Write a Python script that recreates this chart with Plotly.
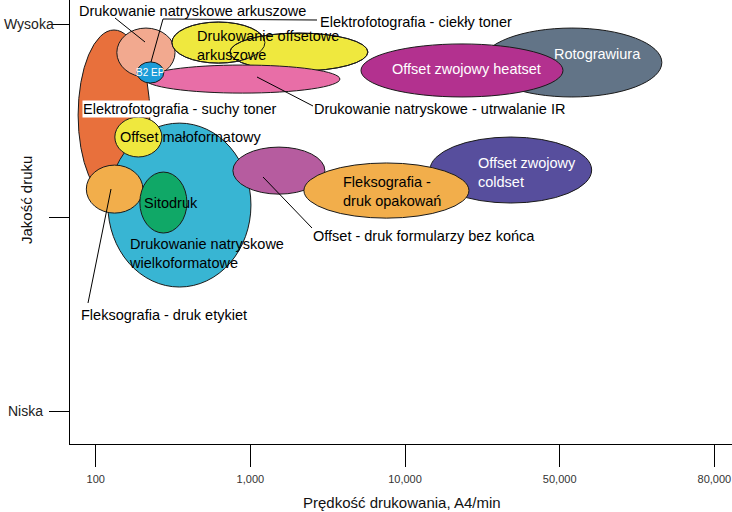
import numpy as np
import plotly.graph_objects as go

# ---- data ----
tick_speeds = [100, 1000, 10000, 50000, 80000]
tick_labels = ["100", "1,000", "10,000", "50,000", "80,000"]
quality_vals = [0, 1, 2]
quality_labels = ["Niska", "", "Wysoka"]

names = [
    "Rotograwiura", "Offset zwojowy heatset", "Elektrofotografia - suchy toner",
    "Drukowanie natryskowe wielkoformatowe", "Offset małoformatowy",
    "Fleksografia - druk etykiet", "Sitodruk", "Drukowanie natryskowe arkuszowe",
    "Drukowanie offsetowe arkuszowe (A)", "Drukowanie offsetowe arkuszowe (B)",
    "Drukowanie natryskowe - utrwalanie IR", "B2 EP",
    "Offset - druk formularzy bez końca", "Offset zwojowy coldset",
    "Fleksografia - druk opakowań",
]
speed_min = [22240, 5190, 77, 120, 133, 87, 193, 137, 311, 738, 208, 185, 771, 12960, 2220]
speed_max = [68200, 50500, 224, 1009, 268, 202, 389, 326, 1242, 5754, 3793, 276, 3034, 55100, 19440]
quality_min = [1.623, 1.623, 1.090, 0.641, 1.313, 1.023, 0.920, 1.726, 1.798, 1.757, 1.643, 1.695, 1.121, 1.075, 0.997]
quality_max = [1.979, 1.897, 1.969, 1.488, 1.519, 1.271, 1.235, 1.979, 2.010, 1.953, 1.788, 1.804, 1.364, 1.416, 1.282]

# ---- styles ----
colors = ["#627487", "#B3318F", "#E8703C", "#38B5D3", "#EFE83E", "#F2AE4B", "#10A867",
          "#F2A98F", "#EFE83E", "#EFE83E", "#E86EA7", "#1C9CD8", "#B65C9F", "#574E9D", "#F2AE4B"]
# the two yellow sheet-fed offset ellipses show both outlines through each other
outline_overlay = [8, 9]

log_ticks = np.log10(tick_speeds)
pos_ticks = np.arange(len(tick_speeds), dtype=float)


def to_axis(v):
    lv = np.log10(v)
    if lv < log_ticks[0]:
        return pos_ticks[0] + (lv - log_ticks[0]) / (log_ticks[1] - log_ticks[0])
    if lv > log_ticks[-1]:
        return pos_ticks[-1] + (lv - log_ticks[-1]) / (log_ticks[-1] - log_ticks[-2])
    return float(np.interp(lv, log_ticks, pos_ticks))


FONT = "Liberation Sans, Arial, sans-serif"
fig = go.Figure()
fig.add_trace(go.Scatter(x=[0], y=[0], mode="markers", marker=dict(opacity=0),
                         hoverinfo="skip", showlegend=False))

for i in range(len(names)):
    fig.add_shape(type="circle", xref="x", yref="y",
                  x0=to_axis(speed_min[i]), x1=to_axis(speed_max[i]),
                  y0=quality_min[i], y1=quality_max[i],
                  fillcolor=colors[i], line=dict(color="#1a1a1a", width=1), layer="above")
    if i == outline_overlay[-1]:
        for j in outline_overlay:
            fig.add_shape(type="circle", xref="x", yref="y",
                          x0=to_axis(speed_min[j]), x1=to_axis(speed_max[j]),
                          y0=quality_min[j], y1=quality_max[j],
                          fillcolor="rgba(0,0,0,0)", line=dict(color="#1a1a1a", width=1),
                          layer="above")

# pixel helpers for label placement
L, R, T, B = 70, 0, 0, 68
W, H = 732, 512
PW, PH = W - L - R, H - T - B


def PX(px):
    return (px - L) / PW


def PY(py):
    return (H - B - py) / PH


leaders = [((115, 18), (145, 42)), ((317, 20), (163, 19)), ((163, 19), (151, 62)),
           ((313, 106), (257, 77)), ((111, 189), (88, 303)), ((312, 228), (263, 177))]
for (a, b) in leaders:
    fig.add_shape(type="line", xref="paper", yref="paper", x0=PX(a[0]), y0=PY(a[1]),
                  x1=PX(b[0]), y1=PY(b[1]), line=dict(color="black", width=1), layer="above")

FS = 14.5
labels = [
    ("Drukowanie natryskowe arkuszowe", 78, 11, "left", "black", FS, None),
    ("Elektrofotografia - ciekły toner", 319, 22, "left", "black", FS, None),
    ("Drukowanie offsetowe<br>arkuszowe", 196, 45.5, "left", "black", FS, None),
    ("Rotograwiura", 597, 54, "center", "white", FS, None),
    ("Offset zwojowy heatset", 466, 69, "center", "white", FS, None),
    ("B2 EP", 150, 72, "center", "white", 10, None),
    ("Elektrofotografia - suchy toner", 82, 109, "left", "black", FS, "white"),
    ("Drukowanie natryskowe - utrwalanie IR", 313, 109, "left", "black", FS, None),
    ("Offset małoformatowy", 119, 137, "left", "black", FS, None),
    ("Offset zwojowy<br>coldset", 477, 172, "left", "white", FS, None),
    ("Fleksografia -<br>druk opakowań", 342, 191, "left", "black", FS, None),
    ("Sitodruk", 143, 203, "left", "black", FS, None),
    ("Offset - druk formularzy bez końca", 312, 236, "left", "black", FS, None),
    ("Drukowanie natryskowe<br>wielkoformatowe", 128, 253, "left", "black", FS, None),
    ("Fleksografia - druk etykiet", 80, 315, "left", "black", FS, None),
]
for text, x, y, anchor, col, size, bg in labels:
    fig.add_annotation(text=text, xref="paper", yref="paper", x=PX(x), y=PY(y),
                       xanchor=anchor, yanchor="middle", align="left", showarrow=False,
                       font=dict(family=FONT, size=size, color=col),
                       bgcolor=bg if bg else "rgba(0,0,0,0)", borderpad=0)

# y tick labels (right edges differ in the reference)
ylabel_right = [44, 53, 55]
for qv, qt, rx in zip(quality_vals, quality_labels, ylabel_right):
    if qt:
        fig.add_annotation(text=qt, xref="paper", yref="y", x=PX(rx), y=qv,
                           xanchor="right", yanchor="middle", showarrow=False, borderpad=0,
                           font=dict(family=FONT, size=14, color="#222"))

fig.add_annotation(text="Jakość druku", xref="paper", yref="paper", x=PX(27), y=PY(200),
                   xanchor="center", yanchor="middle", textangle=-90, showarrow=False,
                   font=dict(family=FONT, size=15, color="#111"))
fig.add_annotation(text="Prędkość drukowania, A4/min", xref="paper", yref="paper",
                   x=PX(402), y=PY(502), xanchor="center", yanchor="middle", showarrow=False,
                   font=dict(family=FONT, size=15, color="#111"))

fig.update_xaxes(range=[-0.166, 4.114], tickvals=list(pos_ticks), ticktext=tick_labels,
                 showline=True, linecolor="black", linewidth=1, ticks="outside", ticklen=22,
                 tickcolor="black", tickfont=dict(family=FONT, size=11, color="#333"),
                 ticklabelstandoff=3,
                 showgrid=False, zeroline=False, automargin=False)
fig.update_yaxes(range=[-0.17, 2.124], tickvals=quality_vals, ticktext=["", "", ""],
                 showline=True, linecolor="black", linewidth=1, ticks="outside", ticklen=20,
                 tickcolor="black",
                 showgrid=False, zeroline=False, automargin=False)
fig.update_layout(width=W, height=H, margin=dict(l=L, r=R, t=T, b=B),
                  paper_bgcolor="white", plot_bgcolor="white", showlegend=False)
fig.write_html("out.html", config={"displayModeBar": False},
               post_script="document.body.style.margin='0';")
